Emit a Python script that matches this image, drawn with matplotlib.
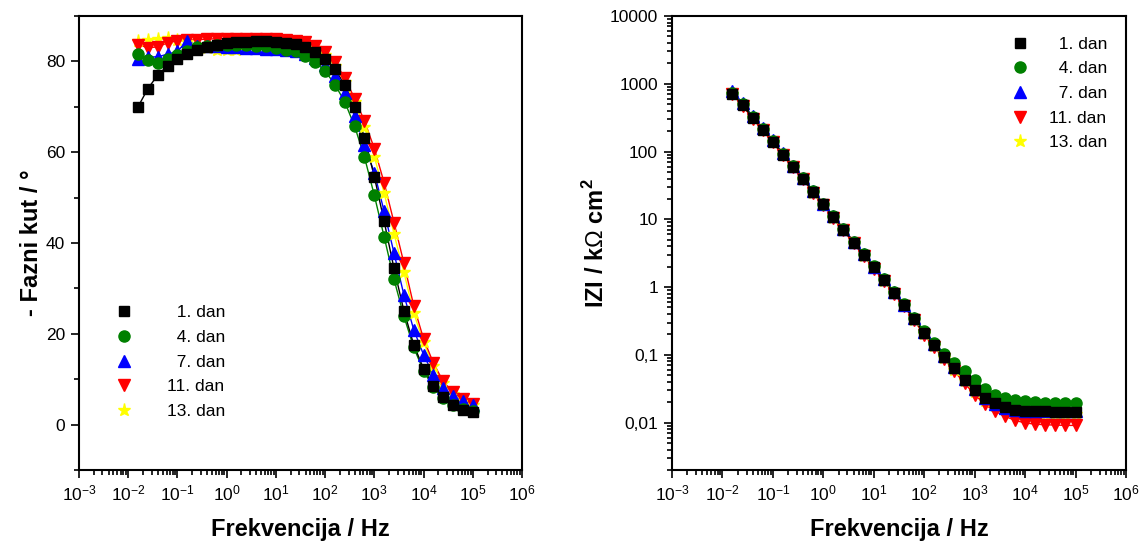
import matplotlib
matplotlib.use("Agg")
import matplotlib.pyplot as plt
from matplotlib.ticker import LogLocator, NullFormatter, FixedLocator, MultipleLocator

plt.rcParams['font.family'] = ['Liberation Sans', 'DejaVu Sans']
plt.rcParams['mathtext.fontset'] = 'custom'
plt.rcParams['mathtext.rm'] = 'Liberation Sans'
plt.rcParams['mathtext.bf'] = 'Liberation Sans:bold'

freq = [0.0158, 0.0251, 0.0398, 0.0631, 0.1, 0.158, 0.251, 0.398, 0.631, 1,
        1.58, 2.51, 3.98, 6.31, 10, 15.8, 25.1, 39.8, 63.1, 100,
        158, 251, 398, 631, 1000, 1580, 2510, 3980, 6310, 10000,
        15800, 25100, 39800, 63100, 100000]

labels = ["  1. dan", "  4. dan", "  7. dan", "11. dan", "13. dan"]

phase_d1 = [70, 74, 77, 79, 80.6, 81.6, 82.5, 83.1, 83.6, 84, 84.2, 84.3, 84.4, 84.4, 84.3, 84.1, 83.8, 83.1,
            82.1, 80.6, 78.3, 74.8, 70, 63.2, 54.6, 44.8, 34.4, 25.1, 17.6, 12.3, 8.6, 6.0, 4.3, 3.3, 2.8]
phase_d4 = [81.7, 80.3, 79.7, 80.6, 81.3, 82.2, 83.2, 83.5, 83.6, 83.7, 83.7, 83.6, 83.5, 83.3, 83.0, 82.6, 82.2,
            81.2, 79.8, 77.9, 74.9, 71.1, 65.7, 58.9, 50.5, 41.4, 32.0, 23.9, 17.0, 11.8, 8.2, 5.8, 4.3, 3.4, 2.9]
phase_d7 = [80.5, 81.0, 81.0, 81.6, 82.2, 84.6, 83.5, 83.4, 83.3, 83.2, 83.1, 83.0, 82.9, 82.8, 82.7, 82.5, 82.3,
            81.7, 80.7, 79.2, 76.8, 73.0, 68.0, 61.5, 55.5, 47.0, 37.8, 28.6, 20.9, 15.4, 11.0, 8.1, 6.2, 5.1, 4.3]
phase_d11 = [83.7, 83.0, 83.2, 84.1, 84.5, 84.7, 84.8, 84.9, 85.0, 85.0, 85.0, 85.0, 85.0, 84.9, 84.9, 84.8, 84.6,
             84.2, 83.4, 82.0, 79.8, 76.4, 71.8, 66.9, 60.8, 53.3, 44.5, 35.6, 26.2, 18.9, 13.6, 9.5, 7.1, 5.6, 4.6]
phase_d13 = [84.5, 84.8, 85.0, 85.1, 84.8, 84.3, 83.6, 83.0, 82.6, 82.5, 82.6, 82.8, 83.2, 83.6, 84.0, 84.2, 84.1,
             83.7, 82.9, 81.4, 79.0, 75.5, 71.0, 65.5, 59.0, 51.0, 42.0, 33.6, 24.6, 18.1, 13.0, 9.2, 6.8, 5.3, 4.4]

z_d1 = [706, 486, 313, 211, 140, 90, 60, 39.7, 25.2, 16.6, 10.8, 7.06, 4.54, 2.96, 1.95, 1.27, 0.824, 0.535,
        0.335, 0.208, 0.140, 0.094, 0.0637, 0.0429, 0.0306, 0.0231, 0.0195, 0.017, 0.0156, 0.0151, 0.0148,
        0.0146, 0.0145, 0.0144, 0.0144]
z_d4 = [730, 500, 325, 218, 145, 93, 62, 41, 26, 17.1, 11.2, 7.3, 4.7, 3.07, 2.02, 1.32, 0.86, 0.56,
        0.355, 0.225, 0.15, 0.104, 0.0755, 0.0569, 0.0429, 0.0313, 0.0258, 0.0231, 0.0213, 0.0206, 0.0199,
        0.0196, 0.0194, 0.0193, 0.0192]
z_d7 = [780, 520, 330, 220, 146, 94, 62, 41, 26, 17.1, 11.1, 7.25, 4.68, 3.05, 2.0, 1.31, 0.85, 0.553,
        0.35, 0.22, 0.145, 0.097, 0.066, 0.0445, 0.0312, 0.0232, 0.0189, 0.0167, 0.0156, 0.0151, 0.0149,
        0.0148, 0.0147, 0.0147, 0.0147]
z_d11 = [700, 475, 305, 206, 136, 88, 58.5, 38.7, 24.5, 16.1, 10.5, 6.85, 4.4, 2.87, 1.88, 1.23, 0.80, 0.52,
         0.325, 0.195, 0.13, 0.086, 0.057, 0.038, 0.026, 0.0186, 0.0148, 0.0124, 0.0108, 0.0099, 0.0095,
         0.0093, 0.0092, 0.0091, 0.0091]
z_d13 = [715, 482, 310, 208, 138, 89, 59, 39, 24.8, 16.3, 10.6, 6.95, 4.47, 2.91, 1.92, 1.25, 0.81, 0.525,
         0.33, 0.2, 0.133, 0.089, 0.06, 0.0405, 0.0285, 0.0212, 0.0173, 0.0152, 0.0141, 0.0136, 0.0134,
         0.0133, 0.0133, 0.0132, 0.0132]

x_ticks = [1e-3, 1e-2, 1e-1, 1e0, 1e1, 1e2, 1e3, 1e4, 1e5, 1e6]
z_ticks = [0.01, 0.1, 1, 10, 100, 1000, 10000]
z_tick_labels = ["0,01", "0,1", "1", "10", "100", "1000", "10000"]

phases = [phase_d1, phase_d4, phase_d7, phase_d11, phase_d13]
zs = [z_d1, z_d4, z_d7, z_d11, z_d13]
colors = ['#000000', '#008000', '#0000FF', '#FF0000', '#FFFF00']
markers = ['s', 'o', '^', 'v', '*']
msizes = [7.2, 8.0, 8.5, 8.5, 9.5]
zorders = [10, 9, 8, 7, 6]

fig = plt.figure(figsize=(11.46, 5.49), dpi=100)
ax1 = fig.add_axes([79/1146, 79/549, 443/1146, 454/549])
ax2 = fig.add_axes([672/1146, 79/549, 454/1146, 454/549])

TICK_FS = 12.5
LAB_FS = 17

def style_axes(ax):
    ax.set_xscale('log')
    ax.set_xlim(1e-3, 1e6)
    ax.set_xticks(x_ticks)
    ax.xaxis.set_minor_locator(LogLocator(base=10, subs=range(2, 10), numticks=100))
    ax.xaxis.set_minor_formatter(NullFormatter())
    ax.tick_params(which='both', direction='out', top=False, right=False, labelsize=TICK_FS, width=1.2)
    ax.tick_params(which='major', length=6, pad=4)
    ax.tick_params(which='minor', length=3.5)
    for s in ax.spines.values():
        s.set_linewidth(1.5)
    ax.set_xlabel('Frekvencija / Hz', fontsize=LAB_FS, fontweight='bold', labelpad=10)

# Left: phase
style_axes(ax1)
ax1.set_ylim(-10, 90)
ax1.yaxis.set_major_locator(FixedLocator([0, 20, 40, 60, 80]))
ax1.yaxis.set_minor_locator(MultipleLocator(10))
ax1.set_ylabel('- Fazni kut / °', fontsize=LAB_FS, fontweight='bold', labelpad=2)

for ph, c, m, ms, zo, lab in zip(phases, colors, markers, msizes, zorders, labels):
    ax1.plot(freq, ph, color=c, lw=1.0, zorder=zo - 5)
    ax1.plot(freq, ph, linestyle='none', marker=m, ms=ms, color=c, mec=c, zorder=zo, label=lab)

# Right: |Z|
style_axes(ax2)
ax2.set_yscale('log')
ax2.set_ylim(0.002, 10000)
ax2.yaxis.set_major_locator(FixedLocator(z_ticks))
ax2.set_yticklabels(z_tick_labels)
ax2.yaxis.set_minor_locator(LogLocator(base=10, subs=range(2, 10), numticks=100))
ax2.yaxis.set_minor_formatter(NullFormatter())
ax2.tick_params(which='both', direction='out', labelsize=TICK_FS)
ax2.set_ylabel(r'IZI / k$\Omega$ cm$^{\mathbf{2}}$', fontsize=LAB_FS, fontweight='bold', labelpad=1)

for z, c, m, ms, zo, lab in zip(zs, colors, markers, msizes, zorders, labels):
    ax2.plot(freq, z, color=c, lw=1.0, zorder=zo - 5)
    ax2.plot(freq, z, linestyle='none', marker=m, ms=ms, color=c, mec=c, zorder=zo, label=lab)

leg_kw = dict(frameon=False, fontsize=12.5, handlelength=1.0,
              borderpad=0, borderaxespad=0, labelspacing=0.55, loc='upper left')
h1, l1 = ax1.get_legend_handles_labels()
ax1.legend(h1, l1, bbox_to_anchor=(0.082, 0.363), handletextpad=2.0, **leg_kw)
h2, l2 = ax2.get_legend_handles_labels()
ax2.legend(h2, l2, bbox_to_anchor=(0.747, 0.955), handletextpad=1.2, **leg_kw)

fig.savefig('out.png', dpi=100)
